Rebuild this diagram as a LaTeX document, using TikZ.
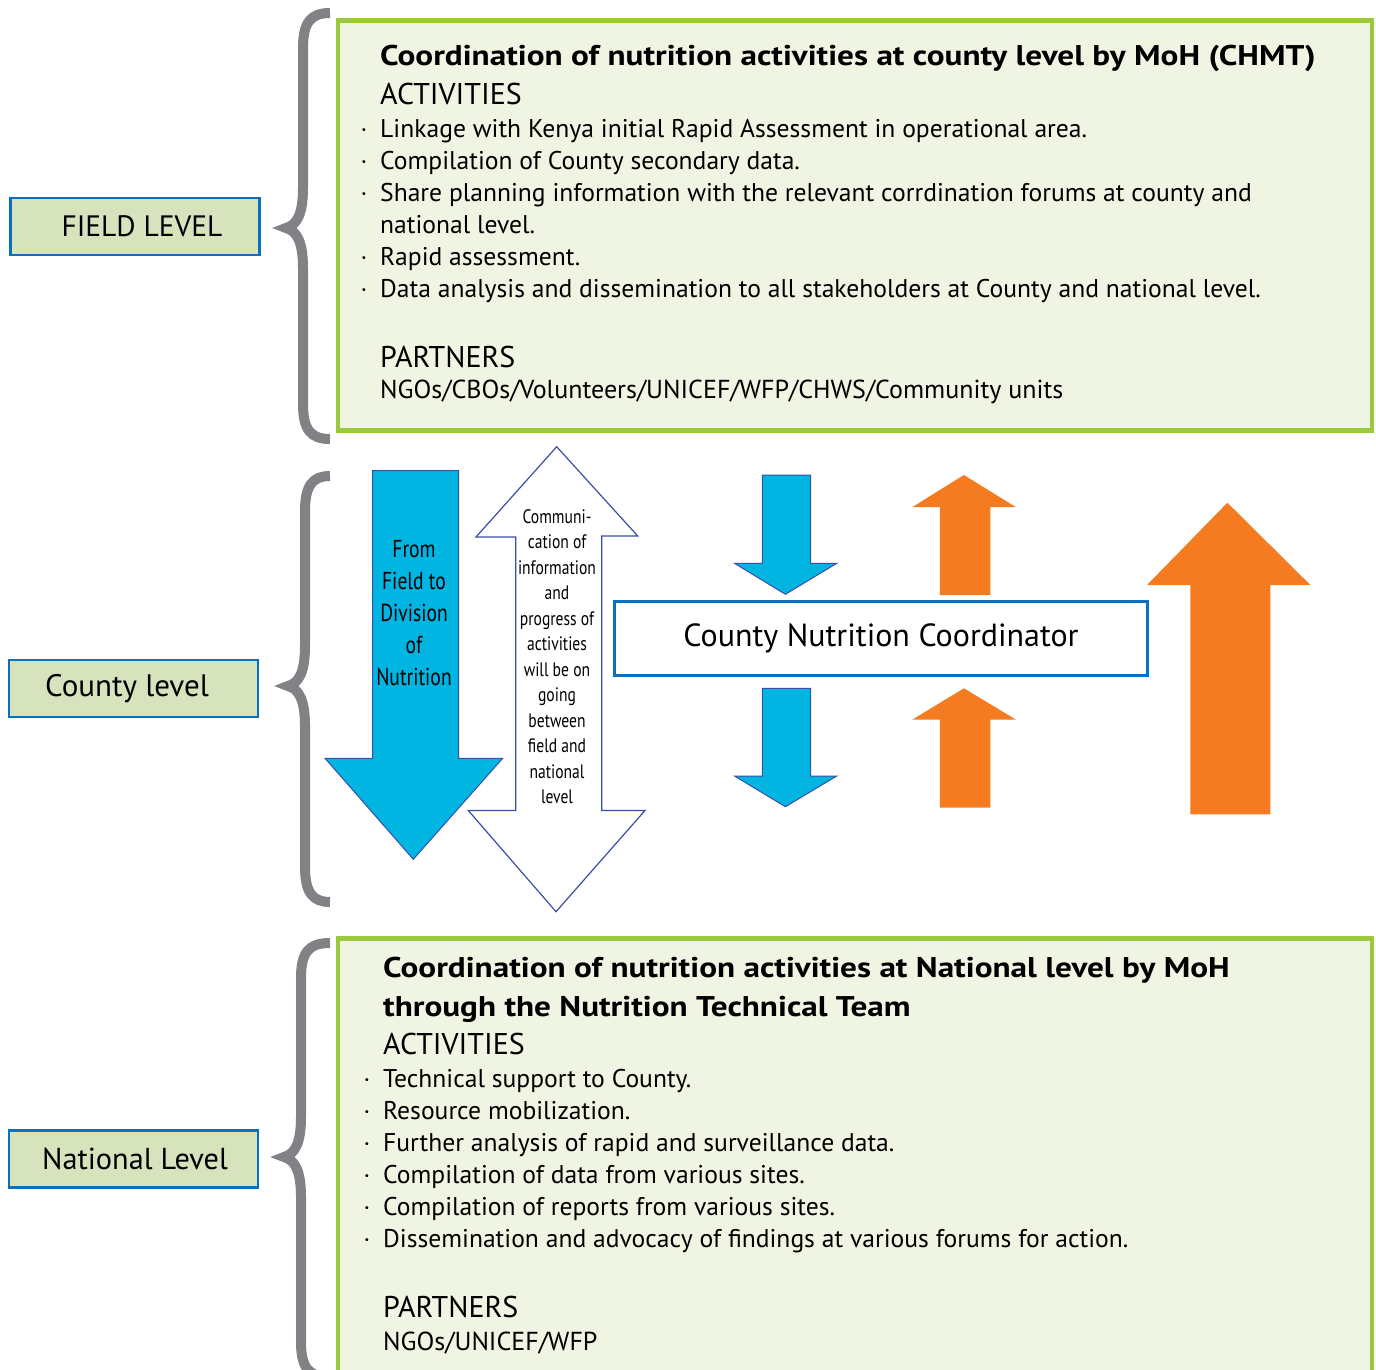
\documentclass[tikz,border=0pt]{standalone}
\usepackage{fontspec}
\setmainfont{PT Sans}
\newfontfamily\condfont[FakeStretch=0.8]{PT Sans}
\newfontfamily\titlefont[FakeStretch=1.165]{PT Sans}
\definecolor{bracegray}{HTML}{808285}
\definecolor{greenb}{HTML}{9ACA3C}
\definecolor{boxfill}{HTML}{EFF4E3}
\definecolor{labelfill}{HTML}{D7E3BC}
\definecolor{labelb}{HTML}{0A70C0}
\definecolor{cyanc}{HTML}{00B5E2}
\definecolor{edgeblue}{HTML}{3B4FA3}
\definecolor{orangec}{HTML}{F47B20}
\newcommand\gbrace[4]{% vertical x, top, mid, bottom
\draw[bracestyle] (330,{#2+3}) .. controls ({#1+8},{#2+3}) and (#1,{#2+12}) .. (#1,{#2+38})
 -- (#1,{#3-40}) .. controls (#1,{#3-14}) and ({#1-6},{#3-3}) .. ({#1-17},#3)
 .. controls ({#1-6},{#3+3}) and (#1,{#3+14}) .. (#1,{#3+40})
 -- (#1,{#4-38}) .. controls (#1,{#4-12}) and ({#1+8},{#4-3}) .. (330,{#4-3});}
\begin{document}
\begin{tikzpicture}[x=1pt,y=-1pt,
  bracestyle/.style={draw=bracegray,line width=10pt},
  bigbox/.style={draw=greenb,line width=4.5pt,fill=boxfill,inner sep=0pt},
  levelbox/.style={draw=labelb,line width=2.5pt,fill=labelfill,minimum width=249pt,minimum height=57pt,inner sep=0pt,font=\fontsize{31}{36}\selectfont},
  titlef/.style={anchor=base west,inner sep=0pt,font=\titlefont\bfseries\fontsize{28.5}{32}\selectfont},
  headf/.style={anchor=base west,inner sep=0pt,font=\fontsize{30}{32}\selectfont},
  bodyf/.style={anchor=base west,inner sep=0pt,font=\fontsize{25.6}{32}\selectfont},
  dotf/.style={anchor=base,inner sep=0pt,font=\fontsize{25}{32}\selectfont},
  condbig/.style={anchor=base,inner sep=0pt,font=\condfont\fontsize{24.5}{32}\selectfont},
  condsmall/.style={anchor=base,inner sep=0pt,font=\condfont\fontsize{19.5}{25}\selectfont},
  bluearrow/.style={fill=cyanc,draw=edgeblue,line width=1pt},
  whitearrow/.style={fill=white,draw=edgeblue,line width=1.2pt},
  orangearrow/.style={fill=orangec,draw=none},
]
\clip (0,0) rectangle (1376,1369);
\path[use as bounding box] (0,0) rectangle (1376,1369);
\fill[white] (0,0) rectangle (1376,1369);

% braces
\gbrace{303}{10}{228}{442}
\gbrace{305}{473}{686}{905}
\gbrace{301}{940}{1157}{1380}

% level labels
\node[levelbox,font=\fontsize{29.5}{36}\selectfont] (field) at (135,226.5) {\hspace*{14pt}FIELD LEVEL};
\node[levelbox] (county) at (133.5,688.5) {County level\hspace*{13pt}};
\node[levelbox,font=\fontsize{30.3}{36}\selectfont] (national) at (133.5,1159) {\hspace*{3pt}National Level};

% top box
\node[bigbox,minimum width=1034pt,minimum height=410pt] (topbox) at (854.75,225.5) {};
\node[titlef] (t1title) at (380,65) {Coordination of nutrition activities at county level by MoH (CHMT)};
\node[headf] (t1act) at (380,104) {ACTIVITIES};
\node[bodyf] (t1b1) at (380,137) {Linkage with Kenya initial Rapid Assessment in operational area.};
\node[bodyf] (t1b2) at (380,169) {Compilation of County secondary data.};
\node[bodyf] (t1b3) at (380,201) {Share planning information with the relevant corrdination forums at county and};
\node[bodyf] (t1b3b) at (380,233) {national level.};
\node[bodyf] (t1b4) at (380,265) {Rapid assessment.};
\node[bodyf] (t1b5) at (380,297) {Data analysis and dissemination to all stakeholders at County and national level.};
\foreach \yy [count=\i] in {137,169,201,265,297} \node[dotf] (t1d\i) at (364,\yy) {·};
\node[headf] (t1par) at (380,367) {PARTNERS};
\node[bodyf,font=\fontsize{26}{32}\selectfont] (t1ngo) at (380,398) {NGOs/CBOs/Volunteers/UNICEF/WFP/CHWS/Community units};

% bottom box
\node[bigbox,minimum width=1034pt,minimum height=470pt] (botbox) at (854.75,1173.7) {};
\node[titlef] (t2title) at (383,977.3) {Coordination of nutrition activities at National level by MoH};
\node[titlef] (t2title2) at (383,1016) {through the Nutrition Technical Team};
\node[headf] (t2act) at (383,1054.5) {ACTIVITIES};
\node[bodyf] (t2b1) at (383,1087) {Technical support to County.};
\node[bodyf] (t2b2) at (383,1119) {Resource mobilization.};
\node[bodyf] (t2b3) at (383,1151) {Further analysis of rapid and surveillance data.};
\node[bodyf] (t2b4) at (383,1183) {Compilation of data from various sites.};
\node[bodyf] (t2b5) at (383,1215) {Compilation of reports from various sites.};
\node[bodyf] (t2b6) at (383,1247) {Dissemination and advocacy of findings at various forums for action.};
\foreach \yy [count=\i] in {1087,1119,1151,1183,1215,1247} \node[dotf] (t2d\i) at (367,\yy) {·};
\node[headf] (t2par) at (383,1317) {PARTNERS};
\node[bodyf,font=\fontsize{26}{32}\selectfont] (t2ngo) at (383,1350) {NGOs/UNICEF/WFP};

% big blue arrow
\draw[bluearrow] (372.7,470.7) -- (458.7,470.7) -- (458.7,758.3) -- (502.7,758.3) -- (413.3,859.3) -- (325,758.3) -- (372.7,758.3) -- cycle;
\foreach \t [count=\i] in {From,Field to,Division,of,Nutrition}
  \node[condbig] (ba\i) at (414,{557.3+32*(\i-1)}) {\t};

% white double arrow
\draw[whitearrow] (556.7,446.7) -- (637.7,536) -- (601.7,536) -- (601.7,810.5) -- (645,810.5) -- (556,911.7) -- (468.3,810.5) -- (515.7,810.5) -- (515.7,537) -- (476,537) -- cycle;
\foreach \t [count=\i] in {Communi-,cation of,information,and,progress of,activities,will be on,going,between,field and,national,level}
  \node[condsmall] (wa\i) at (557,{523.3+25.5*(\i-1)}) {\t};

% small blue arrows
\draw[bluearrow] (762.3,475) -- (810.7,475) -- (810.7,563.3) -- (836.8,563.3) -- (785.4,594.3) -- (734.5,563.3) -- (762.3,563.3) -- cycle;
\draw[bluearrow] (762.3,688.3) -- (810.7,688.3) -- (810.7,776) -- (836.8,776) -- (785.4,806.7) -- (734.5,776) -- (762.3,776) -- cycle;

% small orange arrows
\fill[orangearrow] (963.9,475) -- (1015.7,507) -- (990.4,507) -- (990.4,595) -- (939.9,595) -- (939.9,507) -- (912.5,507) -- cycle;
\fill[orangearrow] (963.9,688.3) -- (1015.7,719.5) -- (990.4,719.5) -- (990.4,807.7) -- (939.9,807.7) -- (939.9,719.5) -- (912.5,719.5) -- cycle;

% big orange arrow
\fill[orangearrow] (1227.4,502.7) -- (1310.3,585) -- (1270.3,585) -- (1270.3,814.3) -- (1190.3,814.3) -- (1190.3,585) -- (1147,585) -- cycle;

% county nutrition coordinator
\node[draw=labelb,line width=2.5pt,fill=white,minimum width=533pt,minimum height=74pt,inner sep=0pt,font=\fontsize{32}{36}\selectfont] (cnc) at (881,638.5) {County Nutrition Coordinator};
\end{tikzpicture}
\end{document}
